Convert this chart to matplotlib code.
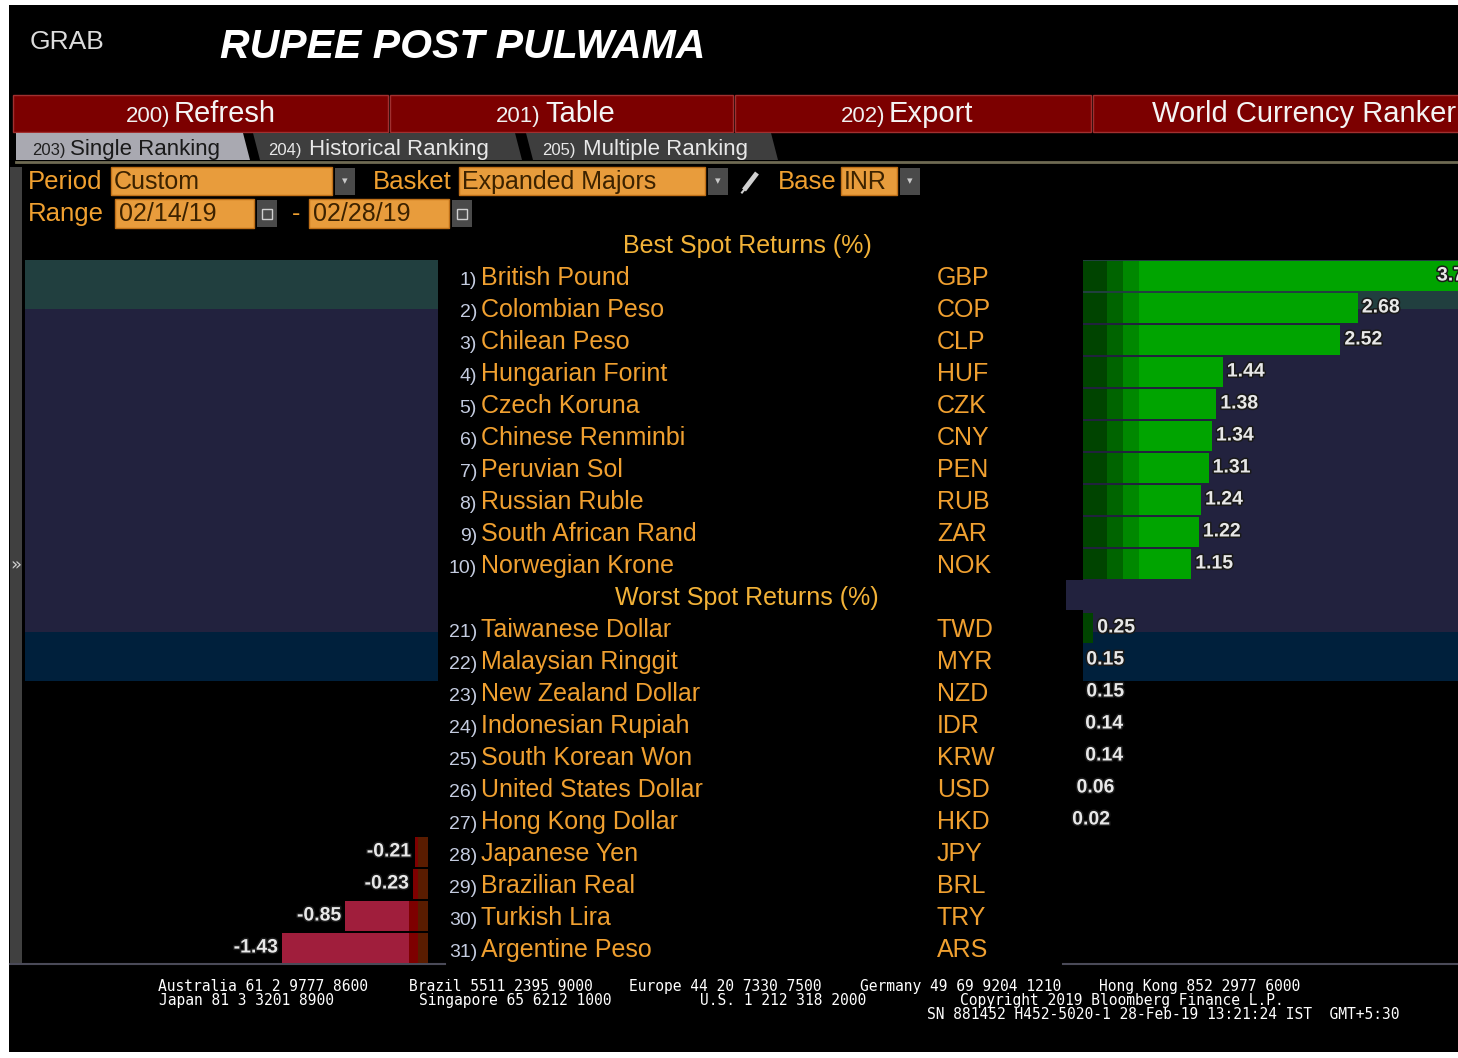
import matplotlib
matplotlib.use("Agg")
import numpy as np
import matplotlib.pyplot as plt
import matplotlib.patheffects as pe
from matplotlib import font_manager
from matplotlib.patches import Rectangle, Polygon

# ── Data: WCR single ranking, base INR, 02/14/19 - 02/28/19 ─────────────────
best_rank = list(range(1, 11))
best_names = ["British Pound", "Colombian Peso", "Chilean Peso", "Hungarian Forint",
              "Czech Koruna", "Chinese Renminbi", "Peruvian Sol", "Russian Ruble",
              "South African Rand", "Norwegian Krone"]
best_codes = ["GBP", "COP", "CLP", "HUF", "CZK", "CNY", "PEN", "RUB", "ZAR", "NOK"]
best_vals = [3.71, 2.68, 2.52, 1.44, 1.38, 1.34, 1.31, 1.24, 1.22, 1.15]

worst_rank = list(range(21, 32))
worst_names = ["Taiwanese Dollar", "Malaysian Ringgit", "New Zealand Dollar",
               "Indonesian Rupiah", "South Korean Won", "United States Dollar",
               "Hong Kong Dollar", "Japanese Yen", "Brazilian Real", "Turkish Lira",
               "Argentine Peso"]
worst_codes = ["TWD", "MYR", "NZD", "IDR", "KRW", "USD", "HKD", "JPY", "BRL", "TRY", "ARS"]
worst_vals = [0.25, 0.15, 0.15, 0.14, 0.14, 0.06, 0.02, -0.21, -0.23, -0.85, -1.43]

footer_1 = ["Australia 61 2 9777 8600", "Brazil 5511 2395 9000", "Europe 44 20 7330 7500",
            "Germany 49 69 9204 1210", "Hong Kong 852 2977 6000"]
footer_2 = ["Japan 81 3 3201 8900", "Singapore 65 6212 1000", "U.S. 1 212 318 2000",
            "Copyright 2019 Bloomberg Finance L.P."]
footer_3 = "SN 881452 H452-5020-1 28-Feb-19 13:21:24 IST  GMT+5:30"

# ── Fonts / colours ─────────────────────────────────────────────────────────
installed = {f.name for f in font_manager.fontManager.ttflist}
SANS = "Liberation Sans" if "Liberation Sans" in installed else "DejaVu Sans"
MONO = "DejaVu Sans Mono"

AMBER = "#f0a030"
NUMCOL = "#c4cce0"
FIELD = "#e89c3c"
FIELD_TXT = "#3c2200"

W, H = 1458, 1058
ROW0, ROWH = 276, 32          # y of first row, row pitch (px)
PX_PER_PCT = 108.9
ZERO_R, ZERO_L = 1066, 438    # zero lines of right / left bar areas (px)

fig = plt.figure(figsize=(W / 100, H / 100), dpi=100, facecolor="white")
ui = fig.add_axes([0, 0, 1, 1])
ui.set_xlim(0, W)
ui.set_ylim(H, 0)
ui.axis("off")


def box(x0, y0, x1, y1, color, ec="none", lw=0):
    ui.add_patch(Rectangle((x0, y0), x1 - x0, y1 - y0, facecolor=color,
                           edgecolor=ec, lw=lw))


def txt(x, y, s, size, color, family=SANS, **kw):
    kw.setdefault("va", "baseline")
    ui.text(x, y, s, fontsize=size, color=color, family=family, **kw)


# black screen
box(9, 5, W, 1052, "black")

# title
txt(30, 49, "GRAB", 19, "#dcdcdc")
txt(220, 58, "RUPEE POST PULWAMA", 29.5, "white", weight="bold", style="italic")

# red function bar
for x0, x1 in [(13, 388), (390, 733), (735, 1091), (1093, W + 2)]:
    box(x0, 95, x1, 132, "#7c0000", ec="#a03030", lw=1)
for pre, word, xp, xw in [("200)", "Refresh", 170, 174), ("201)", "Table", 541, 545),
                          ("202)", "Export", 885, 889)]:
    txt(xp, 122, pre, 16, "#f0f0f0", ha="right")
    txt(xw, 122, word, 21, "#f4f4f4")
txt(1152, 122, "World Currency Ranker", 21, "#f4f4f4")

# tabs
ui.add_patch(Polygon([(16, 133), (243, 133), (250, 160), (16, 160)], closed=True,
                     facecolor="#a9a9b1", edgecolor="none"))
ui.add_patch(Polygon([(253, 133), (515, 133), (522, 160), (260, 160)], closed=True,
                     facecolor="#3e3e3e", edgecolor="none"))
ui.add_patch(Polygon([(526, 133), (771, 133), (778, 160), (533, 160)], closed=True,
                     facecolor="#3e3e3e", edgecolor="none"))
txt(66, 155, "203)", 12, "#202020", ha="right")
txt(70, 155, "Single Ranking", 16, "#1a1a1a")
txt(302, 155, "204)", 12, "#e8e8e8", ha="right")
txt(309, 155, "Historical Ranking", 16, "#e8e8e8")
txt(576, 155, "205)", 12, "#e8e8e8", ha="right")
txt(583, 155, "Multiple Ranking", 16, "#e8e8e8")
ui.plot([16, W], [161.5, 161.5], color="#6e6a52", lw=2)

# left rail
box(10, 167, 22, 963, "#404040")
ui.text(16, 565, "»", fontsize=13, color="#d0d0d0", ha="center", va="center",
        family="DejaVu Sans")


def dropdown(x0, x1, y0, y1):
    box(x0, y0, x1, y1, "#4a4a4a")
    ui.text((x0 + x1) / 2, (y0 + y1) / 2, "▾", fontsize=8, color="#c8c8c8",
            ha="center", va="center", family="DejaVu Sans")


def calendar(x0, x1, y0, y1):
    box(x0, y0, x1, y1, "#4a4a4a")
    box(x0 + 5, y0 + 9, x1 - 5, y1 - 8, "none", ec="#d0d0d0", lw=1)


# period / basket / base row
txt(28, 189, "Period", 18.5, AMBER)
box(111, 167, 332, 195, FIELD, ec="#c07018", lw=1)
txt(114, 189, "Custom", 18, FIELD_TXT)
dropdown(335, 355, 168, 195)
txt(373, 189, "Basket", 18.5, AMBER)
box(459, 167, 705, 195, FIELD, ec="#c07018", lw=1)
txt(462, 189, "Expanded Majors", 18, FIELD_TXT)
dropdown(708, 728, 168, 195)
ui.plot([744, 757], [190, 173], color="#d0d0d0", lw=3.5, solid_capstyle="butt")
ui.plot([742, 744.5], [192.5, 189.5], color="#d0d0d0", lw=1.5)
txt(778, 189, "Base", 18.5, AMBER)
box(841, 167, 897, 195, FIELD, ec="#c07018", lw=1)
txt(844, 189, "INR", 18, FIELD_TXT)
dropdown(900, 920, 168, 195)

# range row
txt(28, 221, "Range", 18.5, AMBER)
box(115, 199, 254, 228, FIELD, ec="#c07018", lw=1)
txt(119, 221, "02/14/19", 18, FIELD_TXT)
calendar(257, 277, 200, 227)
txt(296, 221, "-", 18, AMBER, ha="center")
box(309, 199, 449, 228, FIELD, ec="#c07018", lw=1)
txt(313, 221, "02/28/19", 18, FIELD_TXT)
calendar(452, 472, 200, 227)

# background bands behind the bar areas
box(25, 260, 438, 309, "#213f3f")
box(25, 309, 438, 632, "#22223e")
box(25, 632, 438, 681, "#00203c")
box(1083, 260, W, 309, "#213f3f")
box(1083, 309, W, 632, "#22223e")
box(1066, 580, 1083, 610, "#22223e")
box(1083, 632, W, 681, "#00203c")
ui.plot([10, 445], [964, 964], color="#4a4a58", lw=1.5)
ui.plot([1063, W], [964, 964], color="#4a4a58", lw=1.5)

# ── Row slots: best ranks 0..9, worst header 10, worst ranks 11..21 ─────────
best_slot = np.array(best_rank) - 1
worst_slot = np.array(worst_rank) - 10
slot_y = lambda s: ROW0 + ROWH * s

txt(747, slot_y(-1) + 9, "Best Spot Returns (%)", 18, "#f2b238", ha="center")
txt(747, slot_y(10) + 9, "Worst Spot Returns (%)", 18, "#f2b238", ha="center")

for ranks, names, codes, slots in [(best_rank, best_names, best_codes, best_slot),
                                   (worst_rank, worst_names, worst_codes, worst_slot)]:
    for r, n, c, s in zip(ranks, names, codes, slots):
        y = slot_y(s) + 9
        txt(477, y, f"{r})", 14, NUMCOL, ha="right")
        txt(481, y, n, 18, AMBER)
        txt(937, y, c, 18, AMBER)

# ── Bar axes ────────────────────────────────────────────────────────────────
all_slots = np.concatenate([best_slot, worst_slot])
all_vals = np.array(best_vals + worst_vals)
pos = all_vals > 0
neg = all_vals < 0

ybot, ytop = 1 - 964 / H, (964 - 260) / H
ylim = (21.5, -0.5)
stroke = [pe.withStroke(linewidth=2.2, foreground="#1a1a1a")]
lab = dict(fontsize=14, weight="bold", color="#e8e8e8", family=SANS, va="center",
           textcoords="offset pixels", path_effects=stroke, annotation_clip=False)

# right: gains
axr = fig.add_axes([1083 / W, ybot, (W - 1083) / W, ytop])
axr.set_xlim((1083 - ZERO_R) / PX_PER_PCT, (W - ZERO_R) / PX_PER_PCT)
axr.set_ylim(*ylim)
axr.axis("off")
ps, pv = all_slots[pos], all_vals[pos]
for edge, col in [(np.inf, "#00a400"), (0.67, "#008800"), (0.523, "#006400"), (0.376, "#004400")]:
    axr.barh(ps, np.minimum(pv, edge), height=0.94, color=col, lw=0)
xmax = axr.get_xlim()[1]
for s, v in zip(ps, pv):
    if v > xmax:   # bar runs off the panel: label sits inside at the edge
        axr.annotate(f"{v:.2f}", (xmax, s), xytext=(-21, 0), ha="left", **lab)
    else:
        axr.annotate(f"{v:.2f}", (v, s), xytext=(4, 0), ha="left", **lab)

# left: losses
axl = fig.add_axes([25 / W, ybot, (428 - 25) / W, ytop])
axl.set_xlim(-(ZERO_L - 25) / PX_PER_PCT, -(ZERO_L - 428) / PX_PER_PCT)
axl.set_ylim(*ylim)
axl.axis("off")
ns, nv = all_slots[neg], all_vals[neg]
for edge, col in [(np.inf, "#a01e3c"), (0.27, "#7e0000"), (0.18, "#5a1c00")]:
    axl.barh(ns, -np.minimum(-nv, edge), height=0.94, color=col, lw=0)
for s, v in zip(ns, nv):
    axl.annotate(f"{v:.2f}", (v, s), xytext=(-4, 0), ha="right", **lab)

# ── Footer ──────────────────────────────────────────────────────────────────
for x, s in zip([158, 409, 629, 860, 1099], footer_1):
    txt(x, 991, s, 10.5, "white", family=MONO)
for x, s in zip([159, 419, 700, 960], footer_2):
    txt(x, 1005, s, 10.5, "white", family=MONO)
txt(927, 1019, footer_3, 10.5, "white", family=MONO)

fig.savefig("out.png", dpi=100, facecolor=fig.get_facecolor())
